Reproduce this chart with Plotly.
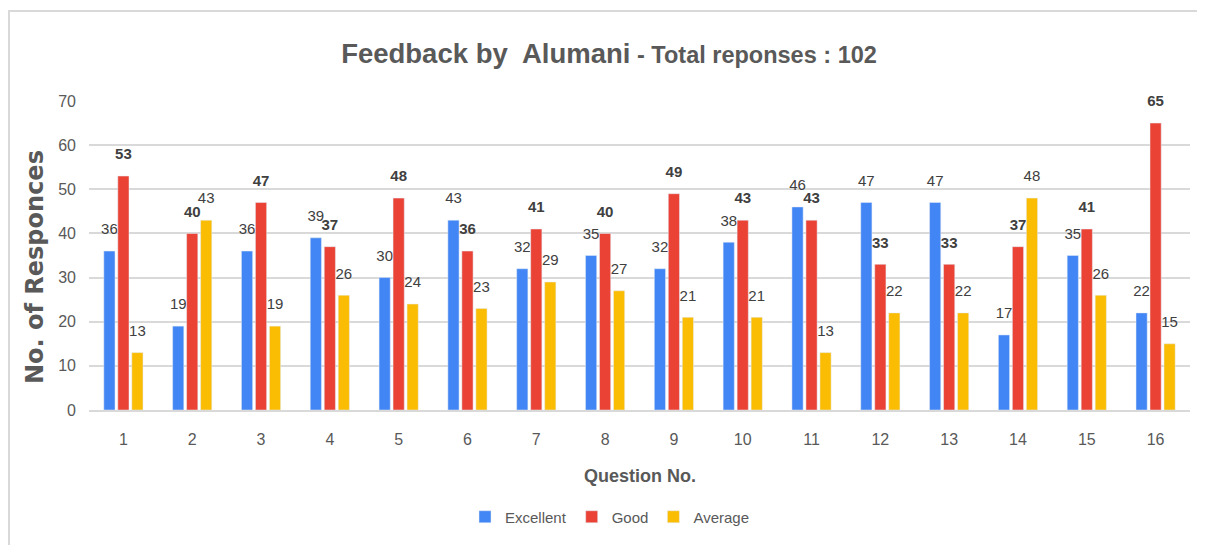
import plotly.graph_objects as go

questions = [str(i) for i in range(1, 17)]
excellent = [36, 19, 36, 39, 30, 43, 32, 35, 32, 38, 46, 47, 47, 17, 35, 22]
good = [53, 40, 47, 37, 48, 36, 41, 40, 49, 43, 43, 33, 33, 37, 41, 65]
average = [13, 43, 19, 26, 24, 23, 29, 27, 21, 21, 13, 22, 22, 48, 26, 15]

SANS = "Liberation Sans, Arial, sans-serif"
WIDE = "DejaVu Sans, Verdana, sans-serif"
# small base font so the trailing empty line lifts each label ~12px off its bar
LABEL = dict(family=SANS, size=9, color="#404040")


def lab(v, bold=False):
    s = f"<b>{v}</b>" if bold else f"{v}"
    return f"<span style='font-size:15px'>{s}</span><br> "


fig = go.Figure()
fig.add_bar(name="Excellent", x=questions, y=excellent, marker_color="#4285F4",
            text=[lab(v) for v in excellent], textposition="outside", cliponaxis=False,
            constraintext="none", textfont=LABEL)
fig.add_bar(name="Good", x=questions, y=good, marker_color="#EA4335",
            text=[lab(v, True) for v in good], textposition="outside", cliponaxis=False,
            constraintext="none", textfont=LABEL)
fig.add_bar(name="Average", x=questions, y=average, marker_color="#FBBC04",
            text=[lab(v) for v in average], textposition="outside", cliponaxis=False,
            constraintext="none", textfont=LABEL)

# the page body adds an 8px offset; figure coordinates = screen - 8
OFF = 8
W, H = 1205 - OFF, 545 - OFF
L, R, T, B = 89 - OFF, 1205 - 1190, 101 - OFF, 545 - 410
pw, ph = W - L - R, H - T - B


def px(x):
    return (x - OFF - L) / pw


def py(y):
    return (H - B - (y - OFF)) / ph


fig.update_layout(
    width=W, height=H,
    margin=dict(l=L, r=R, t=T, b=B, autoexpand=False),
    paper_bgcolor="white", plot_bgcolor="white",
    barmode="group", bargap=0.39, bargroupgap=0.2,
    title=dict(
        text="<b><span style='font-size:27.5px'>Feedback by  Alumani</span> - Total reponses : 102</b>",
        x=(609 - OFF) / W, xanchor="center", y=1 - (55 - OFF) / H, yanchor="middle",
        font=dict(family=SANS, size=23.5, color="#595959"),
    ),
    xaxis=dict(
        tickfont=dict(family=SANS, size=16, color="#595959"),
        showgrid=False, showline=True, linecolor="#d9d9d9", linewidth=2,
        ticks="", ticklabelstandoff=14, automargin=False,
    ),
    yaxis=dict(
        tickfont=dict(family=SANS, size=16, color="#595959"),
        range=[0, 70], dtick=10, showgrid=True, gridcolor="#d9d9d9", gridwidth=1.5,
        zeroline=False, ticks="", ticklabelstandoff=12, automargin=False,
    ),
    legend=dict(
        orientation="h", xref="container", yref="container",
        x=(610 - OFF) / W, xanchor="center", y=1 - (517 - OFF) / H, yanchor="middle",
        font=dict(family=SANS, size=15, color="#595959"),
        itemwidth=30, traceorder="normal",
    ),
    annotations=[
        dict(text="<b>Question No.</b>", xref="paper", yref="paper",
             x=px(640), y=py(476), xanchor="center", yanchor="middle", showarrow=False,
             font=dict(family=SANS, size=18, color="#595959")),
        dict(text="<b>No. of Responces</b>", xref="paper", yref="paper",
             x=px(35), y=py(267), xanchor="center", yanchor="middle", showarrow=False,
             textangle=-90, font=dict(family=WIDE, size=24, color="#595959")),
    ],
    shapes=[
        dict(type="line", xref="paper", yref="paper", x0=px(8), x1=px(1205), y0=py(11), y1=py(11),
             line=dict(color="#d9d9d9", width=2)),
        dict(type="line", xref="paper", yref="paper", x0=px(9), x1=px(9), y0=py(11), y1=py(545),
             line=dict(color="#d9d9d9", width=2)),
    ],
)

fig.write_html("out.html")
